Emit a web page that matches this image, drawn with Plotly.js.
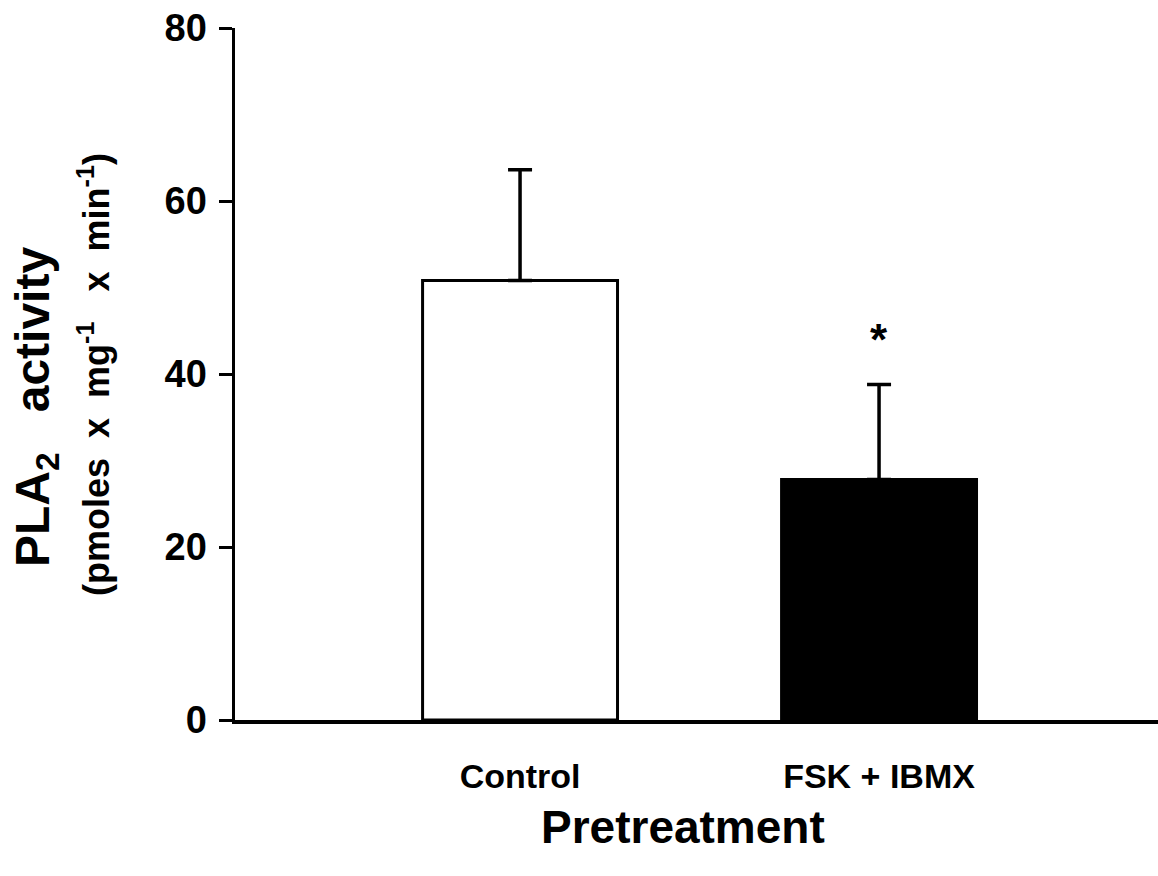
<!DOCTYPE html>
<html>
<head>
<meta charset="utf-8">
<script src="https://cdn.plot.ly/plotly-3.0.1.min.js"></script>
<style>html,body{margin:0;padding:0;background:#fff;}#chart{width:1158px;height:876px;}</style>
</head>
<body>
<div id="chart"></div>
<script>
const categories = ['Control', 'FSK + IBMX'];
const means = [50.8, 27.8];
const errorsUp = [12.8, 11.0];
const errorsDown = [0, 0];
const fills = ['#ffffff', '#000000'];
const yTicks = [0, 20, 40, 60, 80];
const asteriskY = 44;

const FONT = 'Liberation Sans, Arial, sans-serif';

const trace = {
  type: 'bar',
  x: categories,
  y: means,
  marker: {color: fills, line: {color: '#000', width: 3}},
  error_y: {type: 'data', symmetric: false, array: errorsUp, arrayminus: errorsDown, visible: true,
            color: '#000', thickness: 3.5, width: 12},
  hoverinfo: 'skip'
};

const layout = {
  width: 1158, height: 876,
  margin: {l: 235, r: 0, t: 28, b: 156},
  paper_bgcolor: '#fff', plot_bgcolor: '#fff',
  showlegend: false,
  bargap: 0.457,
  xaxis: {
    type: 'category',
    range: [-0.794, 1.777],
    showline: true, linecolor: '#000', linewidth: 3.5,
    ticks: '', showgrid: false, zeroline: false,
    tickfont: {family: FONT, size: 34, color: '#000', weight: 'bold'},
    ticklabelstandoff: 24
  },
  yaxis: {
    range: [0, 80],
    tickvals: yTicks,
    showline: true, linecolor: '#000', linewidth: 3.5,
    ticks: 'outside', ticklen: 13, tickwidth: 3, tickcolor: '#000',
    showgrid: false, zeroline: false,
    tickfont: {family: FONT, size: 38, color: '#000', weight: 'bold'},
    ticklabelstandoff: 4
  },
  annotations: [
    {text: '*', x: categories[1], y: asteriskY, xref: 'x', yref: 'y', showarrow: false,
     font: {family: FONT, size: 44, color: '#000', weight: 'bold'}},
    {text: 'Pretreatment', xref: 'paper', yref: 'paper', x: (683 - 235) / 923, y: (720 - 827) / 692,
     xanchor: 'center', yanchor: 'middle', showarrow: false,
     font: {family: FONT, size: 46, color: '#000', weight: 'bold'}},
    {text: 'PLA<sub>2</sub>   activity', xref: 'paper', yref: 'paper', x: (36 - 235) / 923, y: (720 - 407) / 692,
     xanchor: 'center', yanchor: 'middle', textangle: -90, showarrow: false,
     font: {family: FONT, size: 48, color: '#000', weight: 'bold'}},
    {text: '(pmoles  x  mg<sup>-1</sup>   x  min<sup>-1</sup>)', xref: 'paper', yref: 'paper', x: (94 - 235) / 923, y: (720 - 375) / 692,
     xanchor: 'center', yanchor: 'middle', textangle: -90, showarrow: false,
     font: {family: FONT, size: 36, color: '#000', weight: 'bold'}}
  ]
};

Plotly.newPlot('chart', [trace], layout, {displayModeBar: false, staticPlot: true});
</script>
</body>
</html>
